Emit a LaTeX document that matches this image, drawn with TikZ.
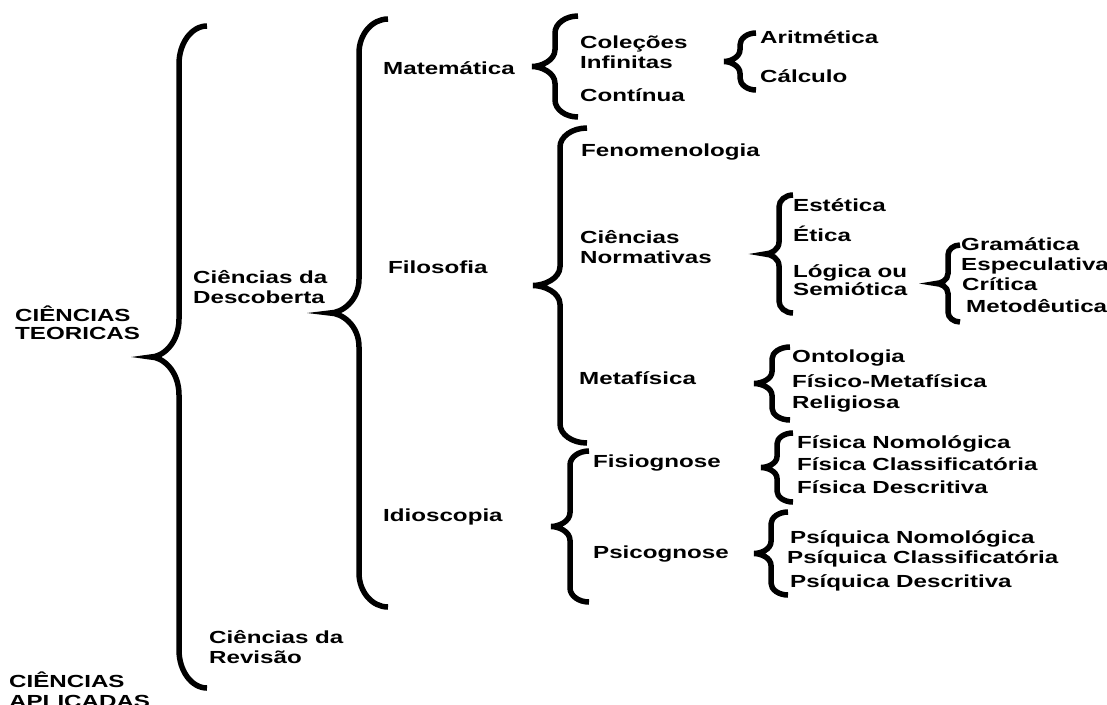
\documentclass[tikz,border=0pt]{standalone}
\usepackage{fontspec}
\setmainfont{Liberation Sans}[FakeStretch=1.38]
\usepackage{tikz}
\usetikzlibrary{calc}

\begin{document}
\begin{tikzpicture}[x=1pt, y=-1pt,
  txt/.style={font=\fontsize{17.5}{20}\selectfont\bfseries, anchor=base west, inner sep=0, align=left},
  brc/.style 2 args={line width=5.5pt, to path={let \p1=(\tikztostart), \p2=(\tikztotarget), \p3=($(\p1)!.5!(\p2)$) in
    (\x1+#1,\y1) .. controls (\x1+0.45*#1,\y1) and (\x1,\y1-0.45*#2) .. (\x1,\y1-#2)
    -- (\x1,\y3+#2) .. controls (\x1,\y3+0.35*#2) and (\x1-0.6*#1,\y3) .. (\x1-#1,\y3)
    .. controls (\x1-0.6*#1,\y3) and (\x1,\y3-0.35*#2) .. (\x1,\y3-#2)
    -- (\x2,\y2+#2) .. controls (\x2,\y2+0.45*#2) and (\x2+0.45*#1,\y2) .. (\x2+#1,\y2)}}]
\useasboundingbox (0,0) rectangle (1107,704);
\fill[white] (0,0) rectangle (1107,704);
%text (base of the last line)
\node[txt] (teo) at (15,339) {CIÊNCIAS\\[-2pt]TEORICAS};
\node[txt] (apl) at (9,707) {CIÊNCIAS\\APLICADAS};
\node[txt] (desc) at (193,303) {Ciências da\\Descoberta};
\node[txt] (rev) at (209,663) {Ciências da\\Revisão};
\node[txt] (mat) at (383,74) {Matemática};
\node[txt] (fil) at (388,273) {Filosofia};
\node[txt] (idio) at (383,521) {Idioscopia};
\node[txt] (colinf) at (580,68) {Coleções\\Infinitas};
\node[txt] (cont) at (580,101) {Contínua};
\node[txt] (arit) at (760,43) {Aritmética};
\node[txt] (calcu) at (760,82) {Cálculo};
\node[txt] (fen) at (581,156) {Fenomenologia};
\node[txt] (norm) at (580,263) {Ciências\\Normativas};
\node[txt] (meta) at (579,384) {Metafísica};
\node[txt] (fisio) at (593,467) {Fisiognose};
\node[txt] (psico) at (593,558) {Psicognose};
\node[txt] (est) at (793,211) {Estética};
\node[txt] (eti) at (793,241) {Ética};
\node[txt] (log) at (793,295) {Lógica ou\\[-2pt]Semiótica};
\node[txt] (gram) at (961,270) {Gramática\\Especulativa};
\node[txt] (crit) at (962,290) {Crítica};
\node[txt] (metod) at (966,312) {Metodêutica};
\node[txt] (onto) at (792,362) {Ontologia};
\node[txt] (fismet) at (792,387) {Físico-Metafísica};
\node[txt] (rel) at (792,408) {Religiosa};
\node[txt] (fnom) at (797,448) {Física Nomológica};
\node[txt] (fcla) at (797,470) {Física Classificatória};
\node[txt] (fdes) at (797,493) {Física Descritiva};
\node[txt] (pnom) at (790,543) {Psíquica Nomológica};
\node[txt] (pcla) at (787,563) {Psíquica Classificatória};
\node[txt] (pdes) at (790,587) {Psíquica Descritiva};
%braces
\coordinate (teo-a) at (179,26); \coordinate (teo-b) at (179,688);
\coordinate (desc-a) at (359,19); \coordinate (desc-b) at (359,607);
\coordinate (mat-a) at (555,16); \coordinate (mat-b) at (555,117);
\coordinate (colinf-a) at (740,33); \coordinate (colinf-b) at (740,90);
\coordinate (fil-a) at (560,128); \coordinate (fil-b) at (560,443);
\coordinate (norm-a) at (779,195); \coordinate (norm-b) at (779,313);
\coordinate (log-a) at (948,245); \coordinate (log-b) at (948,322);
\coordinate (meta-a) at (772,347); \coordinate (meta-b) at (772,420);
\coordinate (idio-a) at (570,451); \coordinate (idio-b) at (570,602);
\coordinate (fisio-a) at (777,433); \coordinate (fisio-b) at (777,502);
\coordinate (psico-a) at (771,512); \coordinate (psico-b) at (771,595);
\draw [brc={28pt}{38pt}] (teo-a) to (teo-b);
\draw [brc={29pt}{34pt}] (desc-a) to (desc-b);
\draw [brc={23pt}{17pt}] (mat-a) to (mat-b);
\draw [brc={16pt}{12pt}] (colinf-a) to (colinf-b);
\draw [brc={27pt}{19pt}] (fil-a) to (fil-b);
\draw [brc={14pt}{12pt}] (norm-a) to (norm-b);
\draw [brc={12pt}{10pt}] (log-a) to (log-b);
\draw [brc={18pt}{12pt}] (meta-a) to (meta-b);
\draw [brc={19pt}{14pt}] (idio-a) to (idio-b);
\draw [brc={16pt}{11pt}] (fisio-a) to (fisio-b);
\draw [brc={17pt}{12pt}] (psico-a) to (psico-b);
\end{tikzpicture}
\end{document}
